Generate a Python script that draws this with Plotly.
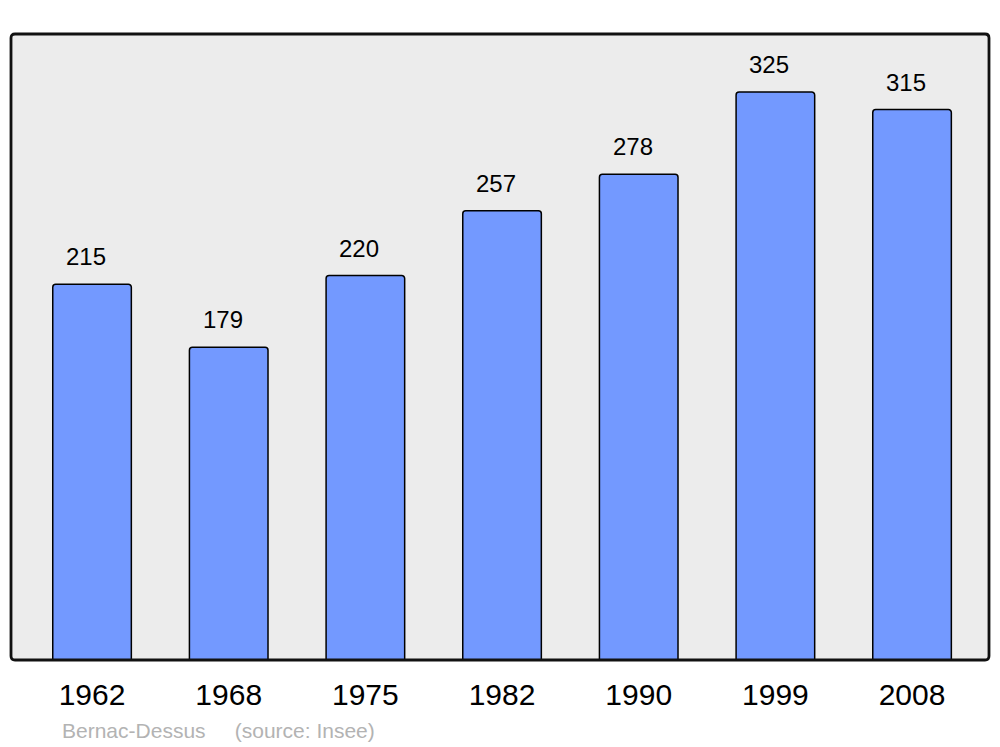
import plotly.graph_objects as go

years = ["1962", "1968", "1975", "1982", "1990", "1999", "2008"]
population = [215, 179, 220, 257, 278, 325, 315]
commune = "Bernac-Dessus"
source = "(source: Insee)"

# page body has an 8px margin; compensate so the plot area lands at x 11..989, y 34..660
OFF = 8
W, H = 1000, 747
ml, mr, mt, mb = 11 - OFF, 11 + OFF, 34 - OFF, 87 + OFF
pw, ph = W - ml - mr, H - mt - mb

fig = go.Figure()
fig.add_trace(go.Bar(
    x=list(range(len(years))), y=population, width=0.575,
    marker=dict(color="#7399ff", line=dict(color="#000000", width=1.5), cornerradius=3),
    hoverinfo="y",
))

for i, v in enumerate(population):
    fig.add_annotation(x=i, y=v, text=str(v), showarrow=False, yanchor="bottom",
                       yshift=12, xshift=-6,
                       font=dict(family="Liberation Sans, Arial", size=24, color="#000000"))

# rounded frame
r = 4
rx, ry = r / pw, r / ph
path = (f"M {rx},0 L {1-rx},0 Q 1,0 1,{ry} L 1,{1-ry} Q 1,1 {1-rx},1 "
        f"L {rx},1 Q 0,1 0,{1-ry} L 0,{ry} Q 0,0 {rx},0 Z")
fig.add_shape(type="path", xref="paper", yref="paper", path=path,
              line=dict(color="#111111", width=2.8), layer="above")

fig.add_annotation(xref="paper", yref="paper", x=(60 - 11) / pw, y=-(730 - 660) / ph,
                   xanchor="left", yanchor="middle", showarrow=False,
                   text=f"{commune}&nbsp;&nbsp;&nbsp;&nbsp;&nbsp;{source}",
                   font=dict(family="Liberation Sans, Arial", size=21, color="#b3b3b3"))

fig.update_layout(
    width=W, height=H, margin=dict(l=ml, r=mr, t=mt, b=mb),
    paper_bgcolor="#ffffff", plot_bgcolor="#ececec",
    showlegend=False, bargap=0.4,
    xaxis=dict(range=[-0.593, 6.563], showgrid=False, zeroline=False,
               tickmode="array", tickvals=list(range(len(years))), ticktext=years,
               ticks="", showline=False, ticklabelstandoff=14,
               tickfont=dict(family="Liberation Sans, Arial", size=30, color="#000000")),
    yaxis=dict(range=[0, 358.2], showgrid=False, zeroline=False, showticklabels=False,
               ticks="", showline=False),
)

fig.write_html("out.html")
